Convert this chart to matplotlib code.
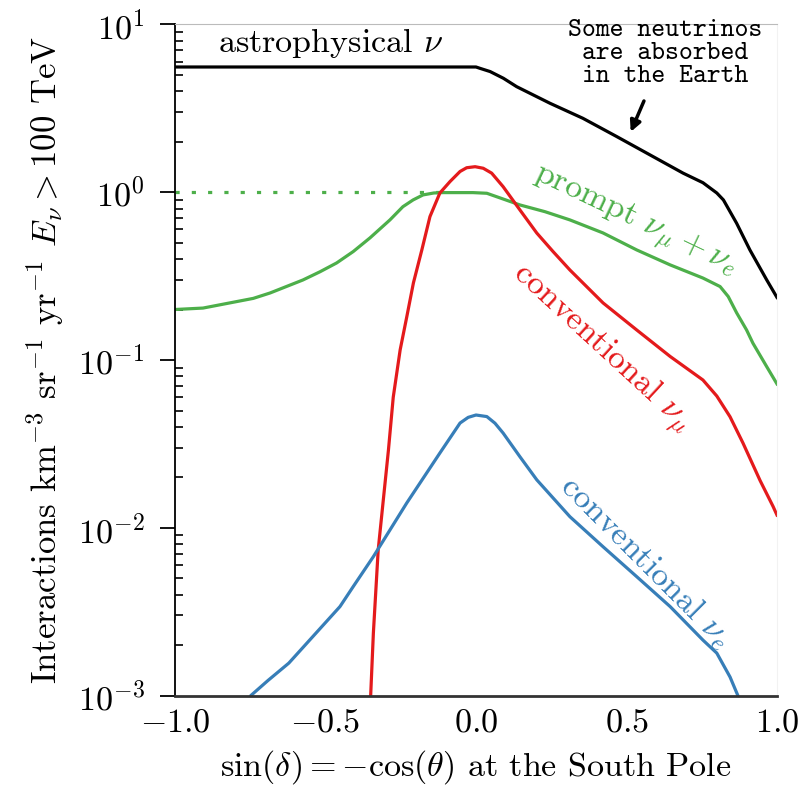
import numpy as np
import matplotlib
matplotlib.use("Agg")
import matplotlib.pyplot as plt

plt.rcParams['font.family'] = 'serif'
plt.rcParams['font.serif'] = ['cmr10']
plt.rcParams['mathtext.fontset'] = 'cm'
plt.rcParams['axes.formatter.use_mathtext'] = True

# astrophysical nu
x_astro = [-1.0, -0.5, -0.05, 0.0, 0.013, 0.047, 0.091, 0.135, 0.246, 0.355, 0.467,
           0.578, 0.688, 0.754, 0.80, 0.822, 0.866, 0.910, 0.966, 1.0]
y_astro = [5.58, 5.58, 5.58, 5.58, 5.48, 5.24, 4.78, 4.26, 3.39, 2.76, 2.15,
           1.67, 1.30, 1.14, 0.99, 0.90, 0.653, 0.453, 0.300, 0.236]

# prompt nu_mu + nu_e
x_prompt = [-1.0, -0.907, -0.795, -0.740, -0.684, -0.575, -0.518, -0.463, -0.408,
            -0.352, -0.286, -0.243, -0.209, -0.176, -0.140, -0.110, -0.010, 0.036,
            0.080, 0.146, 0.229, 0.312, 0.422, 0.534, 0.645, 0.754, 0.811, 0.838,
            0.866, 0.899, 0.920, 0.966, 1.0]
y_prompt = [0.20, 0.204, 0.223, 0.233, 0.251, 0.300, 0.336, 0.379, 0.443,
            0.535, 0.684, 0.82, 0.90, 0.964, 0.99, 0.995, 0.995, 0.986,
            0.925, 0.84, 0.766, 0.684, 0.572, 0.453, 0.369, 0.308, 0.274, 0.239,
            0.191, 0.151, 0.126, 0.0912, 0.072]
# flat dotted part of prompt
x_prompt_flat = [-1.0, -0.11]
y_prompt_flat = [1.0, 1.0]

# conventional nu_mu
x_conv_mu = [-0.355, -0.350, -0.341, -0.325, -0.308, -0.291, -0.275, -0.252, -0.230,
             -0.208, -0.180, -0.153, -0.120, -0.086, -0.053, -0.031, -0.003, 0.024,
             0.052, 0.090, 0.146, 0.202, 0.256, 0.312, 0.422, 0.534, 0.645, 0.754,
             0.80, 0.844, 0.887, 0.944, 0.987, 1.0]
y_conv_mu = [0.0007, 0.001, 0.00236, 0.00738, 0.01466, 0.029, 0.060, 0.115, 0.181,
             0.288, 0.453, 0.716, 0.99, 1.16, 1.33, 1.40, 1.42, 1.39,
             1.30, 1.08, 0.784, 0.571, 0.443, 0.344, 0.219, 0.151, 0.105, 0.076,
             0.061, 0.0459, 0.0320, 0.0191, 0.0134, 0.0119]

# conventional nu_e
x_conv_e = [-0.80, -0.748, -0.691, -0.622, -0.452, -0.408, -0.341, -0.230, -0.120,
            -0.053, -0.026, 0.0, 0.036, 0.063, 0.090, 0.146, 0.202, 0.312, 0.422,
            0.534, 0.645, 0.754, 0.80, 0.844, 0.870, 0.89]
y_conv_e = [0.0007, 0.001, 0.00123, 0.00156, 0.00339, 0.00446, 0.00673, 0.01406, 0.0279,
            0.0421, 0.0455, 0.047, 0.0460, 0.0420, 0.0367, 0.0265, 0.0193, 0.01164, 0.00771,
            0.00511, 0.00339, 0.00214, 0.00179, 0.00129, 0.001, 0.0007]

black = 'black'
green = '#4daf4a'
red = '#e41a1c'
blue = '#377eb8'

fig = plt.figure(figsize=(8.07, 7.90), dpi=100)
ax = fig.add_axes([0.2169, 0.1196, 0.7459, 0.8494])

lw = 2.3
ax.plot(x_astro, y_astro, color=black, lw=lw)
ax.plot(x_prompt, y_prompt, color=green, lw=lw)
ax.plot(x_prompt_flat, y_prompt_flat, color=green, lw=lw, linestyle=(0, (1.3, 3.8)))
ax.plot(x_conv_mu, y_conv_mu, color=red, lw=lw)
ax.plot(x_conv_e, y_conv_e, color=blue, lw=lw)

ax.set_yscale('log')
ax.set_xlim(-1, 1)
ax.set_ylim(1e-3, 10)
ax.set_xticks([-1.0, -0.5, 0.0, 0.5, 1.0])

ax.spines['top'].set_color('#bbbbbb')
ax.spines['top'].set_linewidth(0.8)
ax.spines['right'].set_color('#f2f2f2')
ax.spines['right'].set_linewidth(0.8)
ax.spines['left'].set_color('black')
ax.spines['left'].set_linewidth(1.3)
ax.spines['bottom'].set_color('#333333')
ax.spines['bottom'].set_linewidth(2.0)

fs = 24.5
ax.tick_params(axis='y', which='major', direction='out', length=11, width=1.3,
               labelsize=fs, pad=11)
ax.tick_params(axis='y', which='minor', direction='in', length=6, width=1.2)
ax.tick_params(axis='x', which='both', length=0, labelsize=fs, pad=9)

ax.set_xlabel(r'$\sin(\delta) = -\cos(\theta)$ at the South Pole', fontsize=fs, labelpad=8)
ax.set_ylabel(r'Interactions km$^{-3}$ sr$^{-1}$ yr$^{-1}$ $E_\nu > 100$ TeV',
              fontsize=25, labelpad=8)

ax.text(0.0714, 0.959, r'astrophysical $\nu$', transform=ax.transAxes,
        fontsize=fs, ha='left', va='baseline', color=black)
ax.text(0.814, 0.957, 'Some neutrinos\nare absorbed\nin the Earth',
        transform=ax.transAxes, family='cmtt10', fontsize=19, ha='center',
        va='center', multialignment='center', linespacing=1.0, color='black')
ax.annotate('', xy=(0.757, 0.840), xytext=(0.779, 0.886), xycoords='axes fraction',
            arrowprops=dict(arrowstyle='-|>', color='black', lw=2.5,
                            mutation_scale=16, shrinkA=0, shrinkB=0))

ax.text(0.764, 0.706, r'prompt $\nu_\mu + \nu_e$', transform=ax.transAxes,
        fontsize=fs, color=green, rotation=-25.4, rotation_mode='anchor',
        ha='center', va='center')
ax.text(0.709, 0.518, r'conventional $\nu_\mu$', transform=ax.transAxes,
        fontsize=fs, color=red, rotation=-42.6, rotation_mode='anchor',
        ha='center', va='center')
ax.text(0.781, 0.199, r'conventional $\nu_e$', transform=ax.transAxes,
        fontsize=fs, color=blue, rotation=-45, rotation_mode='anchor',
        ha='center', va='center')

fig.savefig('out.png', dpi=100)
